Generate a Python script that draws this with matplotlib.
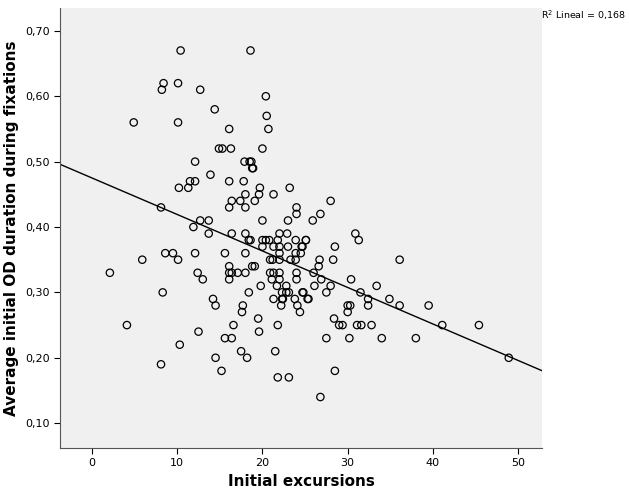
import numpy as np
import matplotlib.pyplot as plt

# initial excursions (x) and average initial OD duration (y)
excursions = [
    28.0, 26.8, 25.9, 30.9, 31.3, 25.1, 24.7, 28.5, 26.7, 28.3, 36.1, 26.6, 26.0, 26.9, 30.4,
    26.1, 28.0, 33.4, 24.8, 27.5, 31.5, 25.4, 32.4, 34.9, 30.0, 30.3, 32.4, 36.1, 39.5, 30.0,
    28.4, 29.0, 29.4, 31.1, 31.6, 32.8, 41.1, 45.4, 27.5, 30.2, 34.0, 38.0, 48.9, 28.5, 26.8,
    10.4, 18.6, 8.4, 8.2, 10.1, 12.7, 20.4, 14.4, 20.5, 4.9, 10.1, 16.1, 20.7, 14.9, 15.3,
    16.3, 20.0, 12.1, 17.9, 18.5, 18.7, 18.8, 18.9, 13.9, 10.2, 11.3, 11.5, 12.1, 16.1, 17.8,
    19.7, 23.2, 18.0, 19.6, 21.3, 16.4, 17.4, 19.1, 16.1, 18.0, 24.0, 8.1, 24.0, 11.9, 12.7,
    13.7, 20.0, 23.0,
    13.7, 16.4, 18.0, 22.0, 22.9, 18.4, 18.6, 20.0, 20.4, 20.8, 21.8, 23.9, 25.1, 20.0, 21.3,
    22.0, 23.0, 24.6, 22.0, 23.9, 24.5, 8.6, 9.5, 12.1, 15.6, 18.0, 5.9, 10.1, 20.9, 21.2,
    22.0, 23.3, 23.9, 16.1, 18.8, 19.1, 2.1, 12.4, 16.1, 16.4, 17.1, 18.0, 20.9, 21.3, 22.0,
    24.0, 13.0, 16.1, 21.1, 22.0, 24.0, 19.8, 21.7, 22.8, 8.3, 18.4, 22.3, 22.8, 23.1, 24.7,
    25.3, 21.3, 22.3, 22.4, 23.8, 14.2, 14.5, 17.7, 22.2, 24.1, 17.6, 24.4, 19.5, 4.1, 16.6,
    21.8, 12.5, 19.6, 15.6, 16.4, 10.3, 17.5, 21.5, 14.5, 18.2, 8.1, 15.2, 21.8, 23.1,
]
od_duration = [
    0.44, 0.42, 0.41, 0.39, 0.38, 0.38, 0.37, 0.37, 0.35, 0.35, 0.35, 0.34, 0.33, 0.32, 0.32,
    0.31, 0.31, 0.31, 0.30, 0.30, 0.30, 0.29, 0.29, 0.29, 0.28, 0.28, 0.28, 0.28, 0.28, 0.27,
    0.26, 0.25, 0.25, 0.25, 0.25, 0.25, 0.25, 0.25, 0.23, 0.23, 0.23, 0.23, 0.20, 0.18, 0.14,
    0.67, 0.67, 0.62, 0.61, 0.62, 0.61, 0.60, 0.58, 0.57, 0.56, 0.56, 0.55, 0.55, 0.52, 0.52,
    0.52, 0.52, 0.50, 0.50, 0.50, 0.50, 0.49, 0.49, 0.48, 0.46, 0.46, 0.47, 0.47, 0.47, 0.47,
    0.46, 0.46, 0.45, 0.45, 0.45, 0.44, 0.44, 0.44, 0.43, 0.43, 0.43, 0.43, 0.42, 0.40, 0.41,
    0.41, 0.41, 0.41,
    0.39, 0.39, 0.39, 0.39, 0.39, 0.38, 0.38, 0.38, 0.38, 0.38, 0.38, 0.38, 0.38, 0.37, 0.37,
    0.37, 0.37, 0.37, 0.36, 0.36, 0.36, 0.36, 0.36, 0.36, 0.36, 0.36, 0.35, 0.35, 0.35, 0.35,
    0.35, 0.35, 0.35, 0.34, 0.34, 0.34, 0.33, 0.33, 0.33, 0.33, 0.33, 0.33, 0.33, 0.33, 0.33,
    0.33, 0.32, 0.32, 0.32, 0.32, 0.32, 0.31, 0.31, 0.31, 0.30, 0.30, 0.30, 0.30, 0.30, 0.30,
    0.29, 0.29, 0.29, 0.29, 0.29, 0.29, 0.28, 0.28, 0.28, 0.28, 0.27, 0.27, 0.26, 0.25, 0.25,
    0.25, 0.24, 0.24, 0.23, 0.23, 0.22, 0.21, 0.21, 0.20, 0.20, 0.19, 0.18, 0.17, 0.17,
]

x_ticks = [0, 10, 20, 30, 40, 50]
y_ticks = [0.10, 0.20, 0.30, 0.40, 0.50, 0.60, 0.70]
r2_label = "R$^2$ Lineal = 0,168"

x = np.array(excursions)
y = np.array(od_duration)

fig = plt.figure(figsize=(6.29, 5.04), dpi=100)
ax = fig.add_axes([60 / 629, 56 / 504, 482 / 629, 440 / 504])
ax.set_facecolor("#f0f0f0")

ax.scatter(x, y, s=28, facecolors="none", edgecolors="black", linewidths=0.9, zorder=3)

# linear fit line across the whole axis
xmin, xmax = -3.75, 52.8
slope, intercept = np.polyfit(x, y, 1)
xs = np.array([xmin, xmax])
ax.plot(xs, intercept + slope * xs, color="black", linewidth=1, zorder=2)

ax.set_xlim(xmin, xmax)
ax.set_ylim(0.062, 0.735)
ax.set_xticks(x_ticks)
ax.set_yticks(y_ticks)
ax.set_yticklabels([f"{v:.2f}".replace(".", ",") for v in y_ticks])
ax.tick_params(labelsize=8, length=4)

for side in ["top", "right"]:
    ax.spines[side].set_visible(False)
ax.spines["left"].set_color("#555555")
ax.spines["bottom"].set_color("#555555")

ax.set_xlabel("Initial excursions", fontsize=11, fontweight="bold")
ax.set_ylabel("Average initial OD duration during fixations", fontsize=11, fontweight="bold")
fig.text(541 / 629, 1 - 15 / 504, r2_label, fontsize=6.8, va="center", ha="left")

fig.savefig("out.png", dpi=100)
